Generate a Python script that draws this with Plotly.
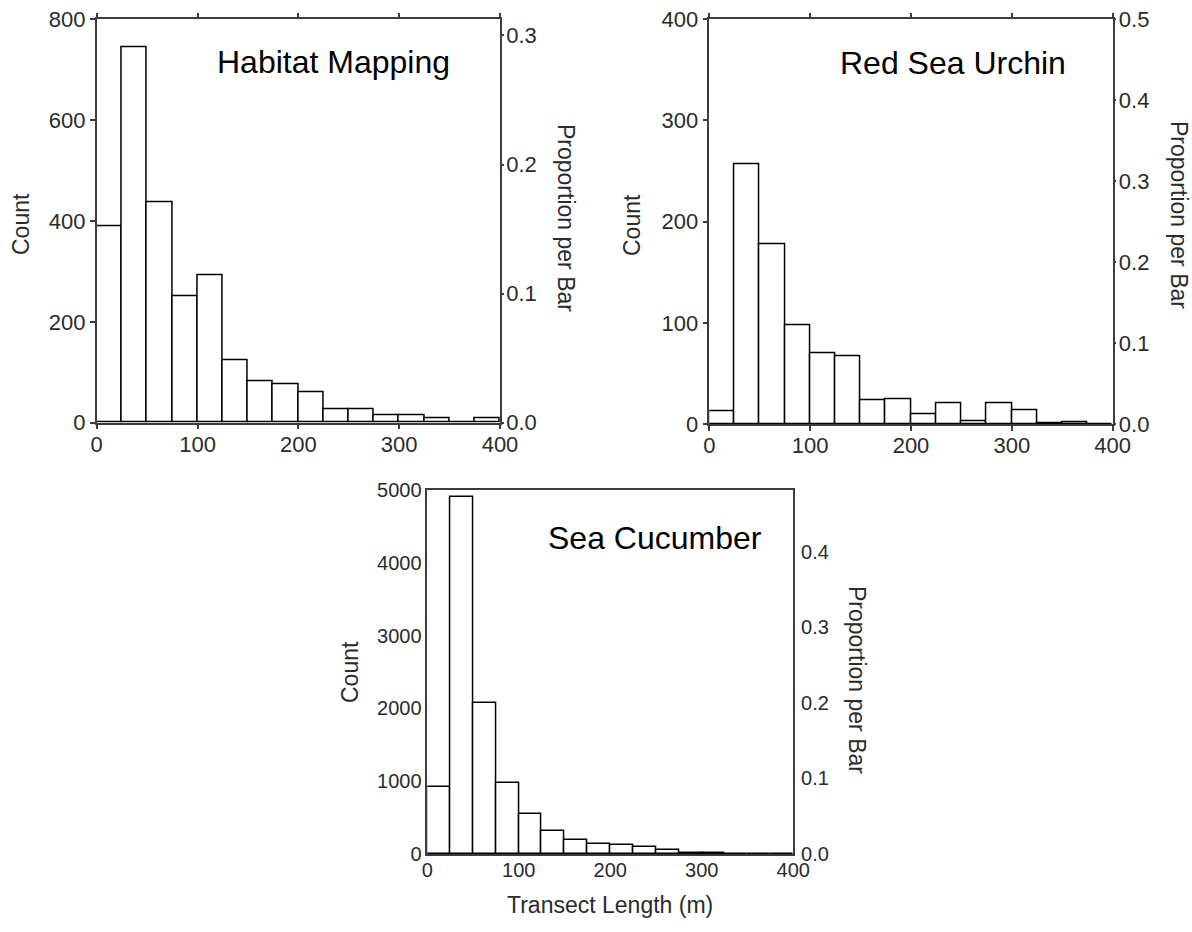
import plotly.graph_objects as go

# ---- data: transect-length histograms (25 m bins, 0-400 m) ----
bin_edges = list(range(0, 425, 25))
panel_titles = ["Habitat Mapping", "Red Sea Urchin", "Sea Cucumber"]

habitat_counts = [390, 745, 438, 251, 293, 124, 82, 76, 61, 26, 26, 15, 15, 9, 0, 9]
urchin_counts = [13, 257, 178, 98, 70, 67, 23, 24, 10, 20, 3, 20, 14, 1, 2, 0]
cucumber_counts = [920, 4910, 2070, 971, 549, 311, 197, 133, 124, 98, 60, 15, 15, 0, 0, 0]

count_max = [800, 400, 5000]
count_dtick = [200, 100, 1000]
x_tick_values = [0, 100, 200, 300, 400]

count_title = "Count"
proportion_title = "Proportion per Bar"
x_title = "Transect Length (m)"

# ---- page geometry (pixels) ----
W, H = 1192, 932
FONT = "Liberation Sans, Arial, sans-serif"
LINE = "#3c3c3c"
TEXT = "#2b2b2b"

# plot boxes: left, top, right, bottom
boxes = [
    (96.7, 19.3, 500.0, 422.7),
    (709.3, 19.3, 1112.7, 424.0),
    (427.3, 490.0, 793.3, 854.0),
]
# tick styling per panel: inside length, outside length (left/bottom/top),
# right outside length, label size, label standoffs (x, y-left, y-right)
tick_styles = [
    dict(tin=6, tout=5, rout=2, size=22, sx=-4, sl=0, sr=-2),
    dict(tin=6, tout=5, rout=2, size=22, sx=-4, sl=0, sr=-2),
    dict(tin=12, tout=0, rout=0, size=20, sx=-3, sl=0, sr=2),
]

all_counts = [habitat_counts, urchin_counts, cucumber_counts]
centers = [(a + b) / 2 for a, b in zip(bin_edges[:-1], bin_edges[1:])]
bin_width = bin_edges[1] - bin_edges[0]


def px(x):
    return x / W


def py(y):
    return 1 - y / H


fig = go.Figure()
layout = {}

for k, counts in enumerate(all_counts):
    left, top, right, bottom = boxes[k]
    st = tick_styles[k]
    xa, xb = 2 * k + 1, 2 * k + 2
    ya, yb, yc, yd = 4 * k + 1, 4 * k + 2, 4 * k + 3, 4 * k + 4
    total = sum(counts)
    prop_max = count_max[k] / total
    xdom = [px(left), px(right)]
    ydom = [py(bottom), py(top)]
    tickfont = dict(family=FONT, size=st["size"], color=TEXT)

    fig.add_trace(go.Bar(
        x=centers, y=counts, width=bin_width,
        marker=dict(color="white", line=dict(color="black", width=1.5)),
        xaxis=f"x{xa}", yaxis=f"y{ya}", showlegend=False, hoverinfo="x+y",
    ))
    # proportion scale on the right axis
    fig.add_trace(go.Scatter(
        x=centers, y=[c / total for c in counts], mode="markers",
        marker=dict(opacity=0), xaxis=f"x{xa}", yaxis=f"y{yc}",
        showlegend=False, hoverinfo="skip",
    ))

    common_x = dict(domain=xdom, range=[0, 400], tickvals=x_tick_values,
                    showgrid=False, zeroline=False, fixedrange=True,
                    automargin=False)
    layout[f"xaxis{xa}"] = dict(
        common_x, anchor=f"y{ya}", side="bottom",
        showline=True, linecolor=LINE, linewidth=1.5,
        mirror="allticks" if st["tout"] else True,
        ticks="outside" if st["tout"] else "", ticklen=st["tout"], tickwidth=1.5,
        tickcolor=LINE, tickfont=tickfont, ticklabelstandoff=st["sx"],
    )
    layout[f"xaxis{xb}"] = dict(
        common_x, anchor=f"y{ya}", overlaying=f"x{xa}", side="bottom",
        showline=False, ticks="inside", ticklen=st["tin"], tickwidth=1.5,
        tickcolor=LINE, mirror="ticks", showticklabels=False,
    )

    common_y = dict(domain=ydom, showgrid=False, zeroline=False, fixedrange=True,
                    automargin=False)
    layout[f"yaxis{ya}"] = dict(
        common_y, anchor=f"x{xa}", side="left", range=[0, count_max[k]],
        dtick=count_dtick[k], tick0=0,
        showline=True, linecolor=LINE, linewidth=1.5,
        ticks="outside" if st["tout"] else "", ticklen=st["tout"], tickwidth=1.5,
        tickcolor=LINE, tickfont=tickfont, ticklabelstandoff=st["sl"],
    )
    layout[f"yaxis{yb}"] = dict(
        common_y, anchor=f"x{xa}", overlaying=f"y{ya}", side="left",
        range=[0, count_max[k]], dtick=count_dtick[k], tick0=0,
        showline=False, ticks="inside", ticklen=st["tin"], tickwidth=1.5,
        tickcolor=LINE, showticklabels=False,
    )
    layout[f"yaxis{yc}"] = dict(
        common_y, anchor=f"x{xa}", overlaying=f"y{ya}", side="right",
        range=[0, prop_max], dtick=0.1, tick0=0, tickformat=".1f",
        showline=True, linecolor=LINE, linewidth=1.5,
        ticks="outside" if st["rout"] else "", ticklen=st["rout"], tickwidth=1.5,
        tickcolor=LINE, tickfont=tickfont, ticklabelstandoff=st["sr"],
    )
    layout[f"yaxis{yd}"] = dict(
        common_y, anchor=f"x{xa}", overlaying=f"y{ya}", side="right",
        range=[0, prop_max], dtick=0.1, tick0=0,
        showline=False, ticks="inside", ticklen=st["tin"], tickwidth=1.5,
        tickcolor=LINE, showticklabels=False,
    )

annotations = []
# panel titles
title_pos = [(215, 62), (838, 63), (546, 538)]
for k, (tx, ty) in enumerate(title_pos):
    annotations.append(dict(
        text=panel_titles[k], x=px(tx), y=py(ty), xref="paper", yref="paper",
        xanchor="left", yanchor="middle", showarrow=False,
        font=dict(family=FONT, size=32, color="black"),
    ))
# axis titles
count_pos = [(21, 224), (632, 225), (350, 672)]
prop_pos = [(566, 218), (1179, 215), (857, 680)]
for k in range(3):
    annotations.append(dict(
        text=count_title, x=px(count_pos[k][0]), y=py(count_pos[k][1]),
        xref="paper", yref="paper", xanchor="center", yanchor="middle",
        textangle=-90, showarrow=False,
        font=dict(family=FONT, size=23, color=TEXT),
    ))
    annotations.append(dict(
        text=proportion_title, x=px(prop_pos[k][0]), y=py(prop_pos[k][1]),
        xref="paper", yref="paper", xanchor="center", yanchor="middle",
        textangle=90, showarrow=False,
        font=dict(family=FONT, size=23, color=TEXT),
    ))
annotations.append(dict(
    text=x_title, x=px(610), y=py(905), xref="paper", yref="paper",
    xanchor="center", yanchor="middle", showarrow=False,
    font=dict(family=FONT, size=23, color=TEXT),
))

fig.update_layout(
    width=W, height=H, autosize=False,
    margin=dict(l=0, r=0, t=0, b=0, pad=0, autoexpand=False),
    paper_bgcolor="white", plot_bgcolor="white",
    bargap=0, showlegend=False, annotations=annotations,
    **layout,
)

fig.write_html("out.html", config={"displayModeBar": False})
